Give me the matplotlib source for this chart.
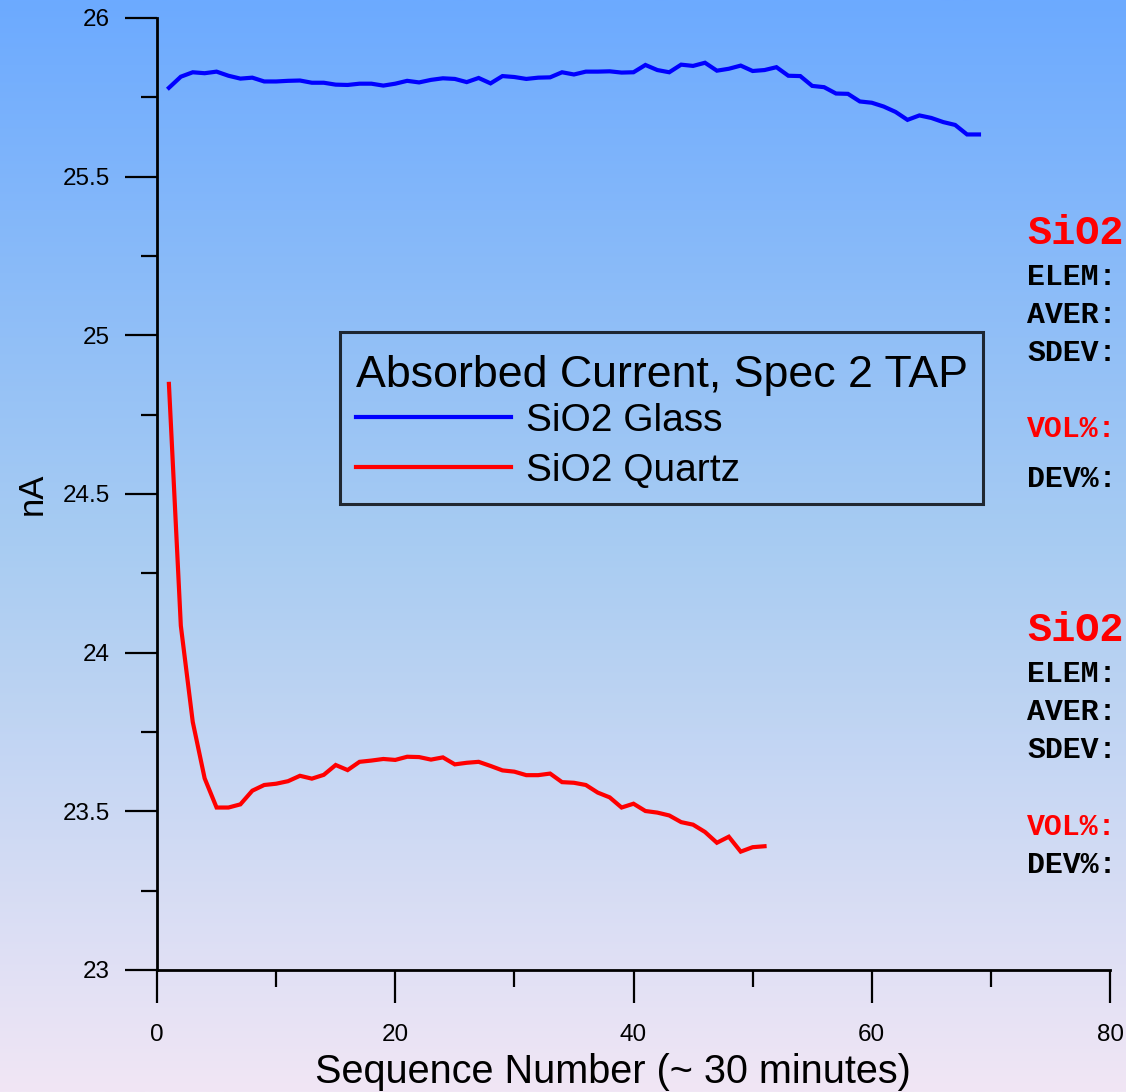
import numpy as np
import matplotlib
matplotlib.use("Agg")
import matplotlib.pyplot as plt
from matplotlib.ticker import MultipleLocator

plt.rcParams['font.family'] = ['Liberation Sans', 'DejaVu Sans']

# ---- data ----
glass_x = list(range(1, 70))
glass_y = [25.780, 25.815, 25.829, 25.826, 25.831, 25.818, 25.809, 25.812, 25.800, 25.800,
           25.802, 25.803, 25.796, 25.796, 25.790, 25.789, 25.793, 25.793, 25.787, 25.793,
           25.802, 25.797, 25.805, 25.810, 25.808, 25.798, 25.811, 25.794, 25.817, 25.814,
           25.808, 25.812, 25.813, 25.829, 25.822, 25.831, 25.831, 25.832, 25.828, 25.829,
           25.852, 25.836, 25.829, 25.853, 25.849, 25.859, 25.834, 25.840, 25.850, 25.833,
           25.836, 25.845, 25.818, 25.817, 25.786, 25.782, 25.762, 25.761, 25.737, 25.733,
           25.721, 25.704, 25.679, 25.693, 25.685, 25.672, 25.663, 25.633, 25.633]
quartz_x = list(range(1, 52))
quartz_y = [24.847, 24.085, 23.782, 23.604, 23.512, 23.512, 23.522, 23.565, 23.583, 23.587,
            23.595, 23.612, 23.603, 23.615, 23.646, 23.630, 23.656, 23.660, 23.665, 23.662,
            23.672, 23.671, 23.663, 23.670, 23.648, 23.653, 23.656, 23.643, 23.629, 23.625,
            23.614, 23.614, 23.619, 23.592, 23.590, 23.583, 23.559, 23.544, 23.512, 23.524,
            23.501, 23.496, 23.487, 23.466, 23.458, 23.435, 23.401, 23.420, 23.373, 23.387, 23.390]
series_names = ["SiO2 Glass", "SiO2 Quartz"]
legend_title = "Absorbed Current, Spec 2 TAP"
x_label = "Sequence Number (~ 30 minutes)"
y_label = "nA"
x_ticks = [0, 20, 40, 60, 80]
y_ticks = [23, 23.5, 24, 24.5, 25, 25.5, 26]
y_tick_labels = ["23", "23.5", "24", "24.5", "25", "25.5", "26"]
side_block_title = "SiO2"
side_labels = ["ELEM:", "AVER:", "SDEV:", "VOL%:", "DEV%:"]

W, H = 1126, 1092
fig = plt.figure(figsize=(W / 100, H / 100), dpi=100)

# background gradient
bg = fig.add_axes([0, 0, 1, 1], zorder=-10)
stops_pos = [0.0, 0.5, 1.0]
stops_col = np.array([[108, 170, 255], [168, 204, 242], [241, 230, 245]]) / 255.0
t = np.linspace(0, 1, 400)
grad = np.stack([np.interp(t, stops_pos, stops_col[:, k]) for k in range(3)], axis=-1)
bg.imshow(grad[:, None, :], aspect='auto', extent=[0, 1, 0, 1], origin='upper')
bg.set_axis_off()

def px(x0, y0, x1, y1):
    return [x0 / W, 1 - y1 / H, (x1 - x0) / W, (y1 - y0) / H]

ax = fig.add_axes(px(157, 18, 1110, 970))
ax.set_facecolor('none')
ax.plot(glass_x, glass_y, color='#0000ff', lw=3.0, label=series_names[0], solid_joinstyle='miter')
ax.plot(quartz_x, quartz_y, color='#ff0000', lw=3.0, label=series_names[1], solid_joinstyle='miter')

ax.set_xlim(0, 80)
ax.set_ylim(23, 26)
for s in ['top', 'right']:
    ax.spines[s].set_visible(False)
for s in ['left', 'bottom']:
    ax.spines[s].set_linewidth(2.0)
ax.set_xticks(x_ticks)
ax.xaxis.set_minor_locator(MultipleLocator(10))
ax.set_yticks(y_ticks)
ax.set_yticklabels(y_tick_labels)
ax.yaxis.set_minor_locator(MultipleLocator(0.25))
ax.tick_params(axis='x', which='major', direction='out', length=24, width=1.6, labelsize=17.5, pad=15)
ax.tick_params(axis='x', which='minor', direction='out', length=12.5, width=1.6)
ax.tick_params(axis='y', which='major', direction='out', length=23, width=1.6, labelsize=17.5, pad=11)
ax.tick_params(axis='y', which='minor', direction='out', length=11.5, width=1.6)

ax.set_xlabel(x_label, fontsize=28.5)
ax.xaxis.set_label_coords(0.478, (970 - 1072) / 952)
ax.xaxis.label.set_va('center')
ax.set_ylabel(y_label, fontsize=25)
ax.yaxis.set_label_coords((32 - 157) / 953, 0.5)
ax.yaxis.label.set_va('center')

leg = ax.legend(loc='upper left', bbox_to_anchor=((340 - 157) / 953, (970 - 332) / 952),
                borderaxespad=0, title=legend_title, title_fontsize=32.2, fontsize=28,
                frameon=True, fancybox=False, handlelength=4.0, handletextpad=0.38,
                borderpad=0.4, labelspacing=0.36)
frame = leg.get_frame()
frame.set_edgecolor('black')
frame.set_facecolor('none')
frame.set_linewidth(2.2)
leg._legend_box.align = "left"
leg.get_title().set_y(-7)
for line in leg.get_lines():
    line.set_linewidth(3.0)

# side annotation blocks (at the right figure edge)
mono = 'Liberation Mono'
blocks = [
    (233, [277, 315, 353, 429, 479]),
    (630, [674, 712, 750, 827, 865]),
]
for ty, ys in blocks:
    fig.text(1027 / W, 1 - ty / H, side_block_title, color='#ff0000', fontsize=29,
             family=mono, weight='bold', va='center', ha='left')
    for lab, yy in zip(side_labels, ys):
        col = '#ff0000' if lab.startswith('VOL') else 'black'
        fig.text(1027 / W, 1 - yy / H, lab, color=col, fontsize=21.5,
                 family=mono, weight='bold', va='center', ha='left')

fig.savefig('out.png', dpi=100)
